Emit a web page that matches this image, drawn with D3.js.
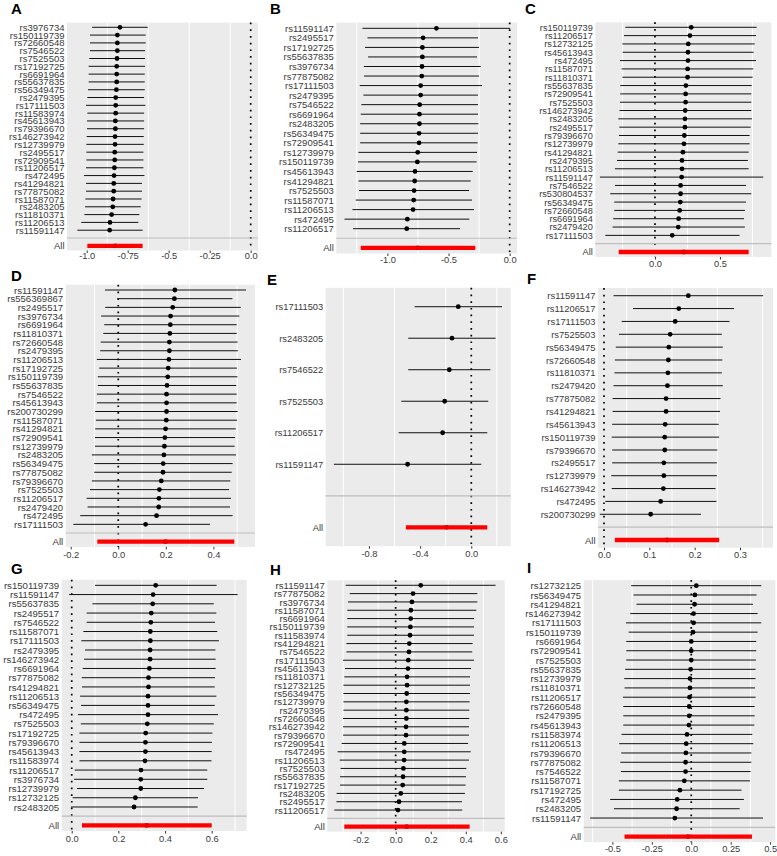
<!DOCTYPE html>
<html><head><meta charset="utf-8">
<script src="https://cdn.jsdelivr.net/npm/d3@7/dist/d3.min.js"></script>
<style>
body{margin:0;background:#fff}
svg text{font-family:"Liberation Sans",Arial,Helvetica,sans-serif}
</style>
</head><body>
<svg id="chart" width="777" height="856"></svg>
<script>
// ---------------- DATA ----------------
const snpsA = ["rs3976734","rs150119739","rs72660548","rs7546522","rs7525503","rs17192725","rs6691964","rs55637835","rs56349475","rs2479395","rs17111503","rs11583974","rs45613943","rs79396670","rs146273942","rs12739979","rs2495517","rs72909541","rs11206517","rs472495","rs41294821","rs77875082","rs11587071","rs2483205","rs11810371","rs11206513","rs11591147"];
const bA  = [-0.797,-0.813,-0.813,-0.813,-0.815,-0.817,-0.817,-0.817,-0.819,-0.823,-0.823,-0.823,-0.825,-0.825,-0.827,-0.827,-0.829,-0.829,-0.831,-0.833,-0.835,-0.835,-0.839,-0.841,-0.848,-0.858,-0.860];
const loA = [-0.967,-0.980,-0.980,-0.980,-0.984,-0.988,-0.988,-0.988,-0.992,-0.996,-1.004,-0.996,-0.998,-0.998,-1.000,-1.002,-1.002,-1.002,-1.004,-1.016,-1.004,-1.004,-1.008,-1.010,-1.014,-1.033,-1.057];
const hiA = [-0.628,-0.640,-0.640,-0.644,-0.644,-0.644,-0.646,-0.646,-0.646,-0.650,-0.642,-0.650,-0.650,-0.650,-0.652,-0.652,-0.654,-0.654,-0.654,-0.648,-0.663,-0.663,-0.665,-0.671,-0.679,-0.685,-0.659];
const allA = [-0.825,-0.996,-0.659];
const ticksA = [-1,-0.75,-0.5,-0.25,0];
const tickLabelsA = ["-1.0","-0.75","-0.5","-0.25","0.0"];

const snpsB = ["rs11591147","rs2495517","rs17192725","rs55637835","rs3976734","rs77875082","rs17111503","rs2479395","rs7546522","rs6691964","rs2483205","rs56349475","rs72909541","rs12739979","rs150119739","rs45613943","rs41294821","rs7525503","rs11587071","rs11206513","rs472495","rs11206517"];
const bB  = [-0.599,-0.708,-0.714,-0.714,-0.717,-0.719,-0.728,-0.728,-0.736,-0.738,-0.738,-0.741,-0.741,-0.752,-0.755,-0.774,-0.777,-0.782,-0.785,-0.790,-0.837,-0.842];
const loB = [-1.204,-1.163,-1.183,-1.158,-1.193,-1.191,-1.226,-1.196,-1.213,-1.218,-1.223,-1.223,-1.223,-1.237,-1.240,-1.251,-1.237,-1.232,-1.259,-1.286,-1.351,-1.281];
const hiB = [0.004,-0.259,-0.251,-0.267,-0.237,-0.251,-0.226,-0.259,-0.259,-0.259,-0.256,-0.259,-0.262,-0.267,-0.270,-0.302,-0.319,-0.332,-0.308,-0.292,-0.330,-0.406];
const allB = [-0.752,-1.218,-0.281];
const ticksB = [-1,-0.5,0];
const tickLabelsB = ["-1.0","-0.5","0.0"];

const snpsC = ["rs150119739","rs11206517","rs12732125","rs45613943","rs472495","rs11587071","rs11810371","rs55637835","rs72909541","rs7525503","rs146273942","rs2483205","rs2495517","rs79396670","rs12739979","rs41294821","rs2479395","rs11206513","rs11591147","rs7546522","rs530804537","rs56349475","rs72660548","rs6691964","rs2479420","rs17111503"];
const bC  = [0.279,0.269,0.256,0.254,0.254,0.251,0.251,0.238,0.236,0.236,0.233,0.231,0.231,0.226,0.223,0.215,0.208,0.208,0.205,0.197,0.197,0.195,0.190,0.182,0.179,0.133];
const loC = [-0.228,-0.238,-0.251,-0.249,-0.269,-0.256,-0.251,-0.267,-0.267,-0.269,-0.272,-0.282,-0.274,-0.277,-0.282,-0.287,-0.292,-0.308,-0.423,-0.308,-0.344,-0.313,-0.313,-0.321,-0.326,-0.382];
const hiC = [0.782,0.777,0.767,0.759,0.777,0.756,0.751,0.744,0.741,0.741,0.741,0.746,0.736,0.728,0.728,0.721,0.715,0.721,0.833,0.700,0.741,0.700,0.692,0.685,0.692,0.651];
const allC = [0.221,-0.279,0.721];
const ticksC = [0,0.5];
const tickLabelsC = ["0.0","0.5"];

const snpsD = ["rs11591147","rs556369867","rs2495517","rs3976734","rs6691964","rs11810371","rs72660548","rs2479395","rs11206513","rs17192725","rs150119739","rs55637835","rs7546522","rs45613943","rs200730299","rs11587071","rs41294821","rs72909541","rs12739979","rs2483205","rs56349475","rs77875082","rs79396670","rs7525503","rs11206517","rs2479420","rs472495","rs17111503"];
const bD  = [0.238,0.236,0.229,0.220,0.219,0.217,0.215,0.215,0.213,0.210,0.208,0.205,0.203,0.203,0.203,0.202,0.199,0.196,0.194,0.192,0.189,0.188,0.181,0.173,0.171,0.170,0.161,0.115];
const loD = [-0.056,-0.004,-0.055,-0.072,-0.059,-0.063,-0.074,-0.076,-0.090,-0.080,-0.086,-0.086,-0.090,-0.090,-0.097,-0.094,-0.097,-0.098,-0.098,-0.111,-0.101,-0.101,-0.111,-0.119,-0.133,-0.129,-0.160,-0.189];
const hiD = [0.537,0.480,0.515,0.509,0.498,0.498,0.502,0.503,0.516,0.499,0.501,0.496,0.498,0.498,0.502,0.499,0.494,0.491,0.489,0.495,0.481,0.477,0.471,0.466,0.474,0.470,0.481,0.386];
const allD = [0.199,-0.088,0.488];
const ticksD = [-0.2,0,0.2,0.4];
const tickLabelsD = ["-0.2","0.0","0.2","0.4"];

const snpsE = ["rs17111503","rs2483205","rs7546522","rs7525503","rs11206517","rs11591147"];
const bE  = [-0.102,-0.151,-0.172,-0.208,-0.224,-0.498];
const loE = [-0.443,-0.493,-0.493,-0.547,-0.568,-1.074];
const hiE = [0.240,0.190,0.149,0.133,0.125,0.078];
const allE = [-0.193,-0.511,0.125];
const ticksE = [-0.8,-0.4,0];
const tickLabelsE = ["-0.8","-0.4","0.0"];

const snpsF = ["rs11591147","rs11206517","rs17111503","rs7525503","rs56349475","rs72660548","rs11810371","rs2479420","rs77875082","rs41294821","rs45613943","rs150119739","rs79396670","rs2495517","rs12739979","rs146273942","rs472495","rs200730299"];
const bF  = [0.186,0.165,0.157,0.146,0.143,0.142,0.141,0.140,0.137,0.137,0.135,0.134,0.134,0.132,0.132,0.131,0.125,0.103];
const loF = [0.021,0.064,0.039,0.033,0.026,0.024,0.023,0.021,0.019,0.019,0.018,0.017,0.018,0.018,0.016,0.017,0.003,-0.009];
const hiF = [0.351,0.287,0.277,0.260,0.262,0.261,0.260,0.262,0.257,0.256,0.253,0.254,0.250,0.249,0.249,0.246,0.248,0.214];
const allF = [0.139,0.024,0.254];
const ticksF = [0,0.1,0.2,0.3];
const tickLabelsF = ["0.0","0.1","0.2","0.3"];

const snpsG = ["rs150119739","rs11591147","rs55637835","rs2495517","rs7546522","rs11587071","rs17111503","rs2479395","rs146273942","rs6691964","rs77875082","rs41294821","rs11206513","rs56349475","rs472495","rs7525503","rs17192725","rs79396670","rs45613943","rs11583974","rs11206517","rs3976734","rs12739979","rs12732125","rs2483205"];
const bG  = [0.360,0.349,0.347,0.341,0.339,0.337,0.337,0.336,0.336,0.333,0.329,0.329,0.327,0.327,0.327,0.324,0.317,0.316,0.316,0.314,0.297,0.296,0.296,0.273,0.267];
const loG = [0.100,-0.011,0.089,0.064,0.064,0.050,0.041,0.057,0.053,0.047,0.043,0.044,0.036,0.040,0.027,0.039,0.033,0.033,0.033,0.033,0.013,0.010,0.023,0.004,-0.003];
const hiG = [0.621,0.711,0.609,0.620,0.614,0.624,0.631,0.616,0.617,0.617,0.614,0.613,0.620,0.613,0.627,0.609,0.603,0.601,0.600,0.599,0.581,0.581,0.567,0.541,0.540];
const allG = [0.321,0.044,0.600];
const ticksG = [0,0.2,0.4,0.6];
const tickLabelsG = ["0.0","0.2","0.4","0.6"];

const snpsH = ["rs11591147","rs77875082","rs3976734","rs11587071","rs6691964","rs150119739","rs11583974","rs41294821","rs7546522","rs17111503","rs45613943","rs11810371","rs12732125","rs56349475","rs12739979","rs2479395","rs72660548","rs146273942","rs79396670","rs72909541","rs472495","rs11206513","rs7525503","rs55637835","rs17192725","rs2483205","rs2495517","rs11206517"];
const bH  = [0.143,0.099,0.093,0.087,0.086,0.084,0.082,0.078,0.076,0.072,0.070,0.065,0.065,0.063,0.061,0.061,0.061,0.059,0.059,0.049,0.049,0.048,0.044,0.042,0.040,0.029,0.019,0.013];
const loH = [-0.285,-0.262,-0.272,-0.276,-0.276,-0.276,-0.276,-0.281,-0.281,-0.300,-0.289,-0.293,-0.298,-0.298,-0.298,-0.298,-0.300,-0.300,-0.300,-0.308,-0.331,-0.319,-0.314,-0.317,-0.317,-0.337,-0.338,-0.350];
const hiH = [0.570,0.466,0.466,0.460,0.447,0.447,0.447,0.439,0.437,0.447,0.430,0.424,0.424,0.424,0.422,0.420,0.420,0.418,0.418,0.413,0.428,0.418,0.403,0.401,0.399,0.395,0.378,0.380];
const allH = [0.063,-0.293,0.422];
const ticksH = [-0.2,0,0.2,0.4,0.6];
const tickLabelsH = ["-0.2","0.0","0.2","0.4","0.6"];

const snpsI = ["rs12732125","rs56349475","rs41294821","rs146273942","rs17111503","rs150119739","rs6691964","rs72909541","rs7525503","rs55637835","rs12739979","rs11810371","rs11206517","rs72660548","rs2479395","rs45613943","rs11583974","rs11206513","rs79396670","rs77875082","rs7546522","rs11587071","rs17192725","rs472495","rs2483205","rs11591147"];
const bI  = [0.032,0.023,0.021,0.015,0.015,0.011,0.000,0.000,0.000,-0.004,-0.008,-0.008,-0.011,-0.013,-0.013,-0.015,-0.027,-0.032,-0.034,-0.036,-0.036,-0.044,-0.072,-0.089,-0.093,-0.104];
const loI = [-0.381,-0.366,-0.347,-0.387,-0.414,-0.397,-0.412,-0.412,-0.412,-0.419,-0.425,-0.423,-0.433,-0.431,-0.431,-0.431,-0.442,-0.457,-0.444,-0.450,-0.446,-0.459,-0.459,-0.514,-0.490,-0.641];
const hiI = [0.444,0.414,0.391,0.421,0.444,0.421,0.412,0.412,0.410,0.408,0.408,0.404,0.408,0.402,0.402,0.400,0.387,0.393,0.381,0.381,0.376,0.372,0.319,0.334,0.307,0.455];
const allI = [-0.021,-0.423,0.385];
const ticksI = [-0.5,-0.25,0,0.25,0.5];
const tickLabelsI = ["-0.5","-0.25","0.0","0.25","0.5"];

// ---------------- LAYOUT (pixel geometry of each panel) ----------------
const panels = [
  {id:"A", snps:snpsA, b:bA, lo:loA, hi:hiA, all:allA, ticks:ticksA, labels:tickLabelsA,
   x0:67, x1:258, top:22.6, bottom:250.5, dom:[-1.120,0.0445], tx:11, ty:13.5, fs:9.5, lb:8.5},
  {id:"B", snps:snpsB, b:bB, lo:loB, hi:hiB, all:allB, ticks:ticksB, labels:tickLabelsB,
   x0:336.3, x1:517, top:22.6, bottom:253.5, dom:[-1.418,0.060], tx:270, ty:13.5, fs:9.5, lb:9},
  {id:"C", snps:snpsC, b:bC, lo:loC, hi:hiC, all:allC, ticks:ticksC, labels:tickLabelsC,
   x0:595.3, x1:771.3, top:22.3, bottom:257, dom:[-0.459,0.895], tx:525, ty:13.5, fs:9.2, lb:10},
  {id:"D", snps:snpsD, b:bD, lo:loD, hi:hiD, all:allD, ticks:ticksD, labels:tickLabelsD,
   x0:65.7, x1:255, top:284.8, bottom:546.9, dom:[-0.221,0.575], tx:11, ty:281, fs:9.6, lb:11},
  {id:"E", snps:snpsE, b:bE, lo:loE, hi:hiE, all:allE, ticks:ticksE, labels:tickLabelsE,
   x0:325.7, x1:510.7, top:287.8, bottom:546.2, dom:[-1.138,0.308], tx:267, ty:285, fs:9.3, lb:11},
  {id:"F", snps:snpsF, b:bF, lo:loF, hi:hiF, all:allF, ticks:ticksF, labels:tickLabelsF,
   x0:598, x1:773, top:288, bottom:547.7, dom:[-0.0132,0.3728], tx:527, ty:284, fs:9.4, lb:10},
  {id:"G", snps:snpsG, b:bG, lo:loG, hi:hiG, all:allG, ticks:ticksG, labels:tickLabelsG,
   x0:61.7, x1:246.7, top:579.8, bottom:831, dom:[-0.0429,0.750], tx:11, ty:573.5, fs:9.6, lb:10.5},
  {id:"H", snps:snpsH, b:bH, lo:loH, hi:hiH, all:allH, ticks:ticksH, labels:tickLabelsH,
   x0:327.3, x1:504.7, top:580.3, bottom:831.7, dom:[-0.390,0.622], tx:270, ty:575, fs:9.6, lb:11},
  {id:"I", snps:snpsI, b:bI, lo:loI, hi:hiI, all:allI, ticks:ticksI, labels:tickLabelsI,
   x0:583.7, x1:775.3, top:580.1, bottom:842.2, dom:[-0.682,0.533], tx:527, ty:573, fs:9.6, lb:9.5}
];

const svg = d3.select("#chart");
const textCol = "#3A3A3A";

panels.forEach(p => {
  const g = svg.append("g");
  const levels = p.snps.concat(["", "All"]);
  const x = d3.scaleLinear().domain(p.dom).range([p.x0, p.x1]);
  const y = d3.scalePoint().domain(levels).range([p.top, p.bottom]).padding(0.6);

  // panel background
  g.append("rect").attr("x", p.x0).attr("y", p.top)
    .attr("width", p.x1 - p.x0).attr("height", p.bottom - p.top).attr("fill", "#EBEBEB");

  // minor grid lines (midway between breaks)
  const step = p.ticks[1] - p.ticks[0];
  const minors = [];
  for (let i = -1; i < p.ticks.length; i++) {
    const m = p.ticks[0] + (i + 0.5) * step;
    if (m > p.dom[0] && m < p.dom[1]) minors.push(m);
  }
  g.selectAll(".minor").data(minors).join("line")
    .attr("x1", d => x(d)).attr("x2", d => x(d))
    .attr("y1", p.top).attr("y2", p.bottom)
    .attr("stroke", "#FFFFFF").attr("stroke-width", 1);

  // zero reference (dotted)
  g.append("line").attr("x1", x(0)).attr("x2", x(0)).attr("y1", p.top).attr("y2", p.bottom)
    .attr("stroke", "#000").attr("stroke-width", 1.7).attr("stroke-dasharray", "1.7,5");

  // rows
  const rows = p.snps.map((s, i) => ({snp: s, b: p.b[i], lo: p.lo[i], hi: p.hi[i]}));
  g.selectAll(".eb").data(rows).join("line")
    .attr("x1", d => x(d.lo)).attr("x2", d => x(d.hi))
    .attr("y1", d => y(d.snp)).attr("y2", d => y(d.snp))
    .attr("stroke", "#111").attr("stroke-width", 1);
  g.selectAll(".pt").data(rows).join("circle")
    .attr("cx", d => x(d.b)).attr("cy", d => y(d.snp)).attr("r", 2.4).attr("fill", "#000");

  // overall estimate
  g.append("line").attr("x1", x(p.all[1])).attr("x2", x(p.all[2]))
    .attr("y1", y("All")).attr("y2", y("All")).attr("stroke", "#FF0000").attr("stroke-width", 4.3);
  g.append("circle").attr("cx", x(p.all[0])).attr("cy", y("All")).attr("r", 2.4).attr("fill", "#E60000");

  // separator
  g.append("line").attr("x1", p.x0).attr("x2", p.x1).attr("y1", y("")).attr("y2", y(""))
    .attr("stroke", "#BEBEBE").attr("stroke-width", 1.2);

  // y axis labels
  const ya = d3.axisLeft(y).tickSize(0).tickPadding(2.5);
  const yg = g.append("g").attr("transform", `translate(${p.x0},0)`).call(ya);
  yg.select(".domain").remove();
  yg.selectAll("text").attr("fill", textCol).style("font-size", p.fs + "px");

  // x axis
  const xa = d3.axisBottom(x).tickValues(p.ticks).tickFormat((d, i) => p.labels[i])
    .tickSizeInner(2.5).tickSizeOuter(0).tickPadding(1.5);
  const xg = g.append("g").attr("transform", `translate(0,${p.bottom})`).call(xa);
  xg.select(".domain").remove();
  xg.selectAll(".tick line").attr("stroke", "#333").attr("stroke-width", 1);
  xg.selectAll("text").attr("fill", textCol).style("font-size", "9.3px")
    .attr("dy", null).attr("y", p.lb);

  // title
  g.append("text").attr("x", p.tx).attr("y", p.ty).text(p.id)
    .style("font-size", "15px").style("font-weight", "bold").attr("fill", "#000");
});
</script>
</body></html>
